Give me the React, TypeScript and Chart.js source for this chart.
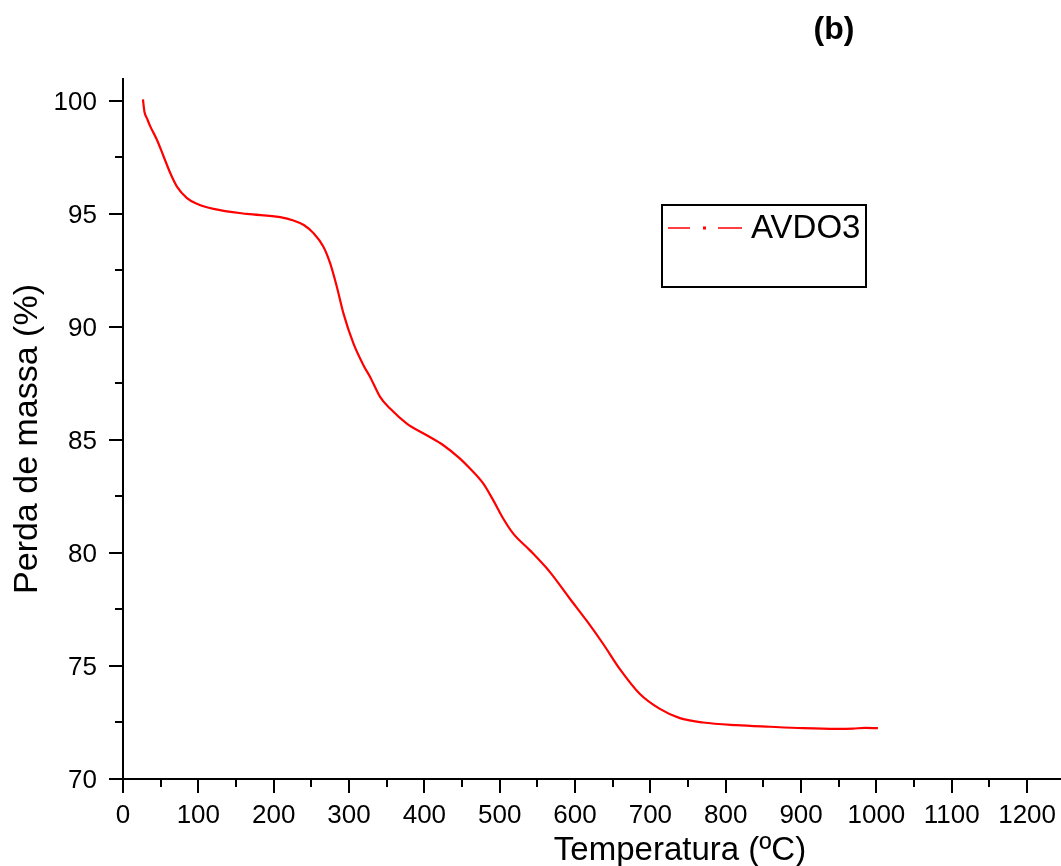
import React, { useEffect, useRef } from "react";
import { Chart, registerables } from "chart.js";

Chart.register(...registerables);

const temperature: number[] = [
  26.5, 27.5, 28.5, 32, 36.2, 45, 53.9, 62.7, 71.6, 84.9, 98.1, 120.2, 164.5, 208.6, 226.3,
  240, 252.8, 266, 274.9, 283.8, 292.6, 305.8, 319.1, 328, 341.2, 354.5, 376.7, 403.2, 425.2,
  447.3, 460.6, 478.3, 491.5, 504.8, 518, 540.2, 566.7, 593.2, 615.4, 637.4, 659.5, 686.1,
  712.6, 739.1, 770, 814.3, 858.5, 902.7, 946.9, 969, 985, 1002,
];
const massPercent: number[] = [
  100.05, 99.75, 99.5, 99.2, 98.86, 98.27, 97.53, 96.8, 96.2, 95.69, 95.44, 95.21, 94.99, 94.85, 94.7,
  94.5, 94.14, 93.54, 92.81, 91.77, 90.59, 89.26, 88.3, 87.78, 86.9, 86.38, 85.72, 85.2, 84.76,
  84.17, 83.73, 83.06, 82.32, 81.51, 80.85, 80.11, 79.15, 77.97, 77.0, 75.97, 74.86, 73.76,
  73.1, 72.69, 72.5, 72.38, 72.31, 72.25, 72.22, 72.23, 72.26, 72.25,
];
const seriesName = "AVDO3";
const xTitle = "Temperatura (ºC)";
const yTitle = "Perda de massa (%)";
const panelLabel = "(b)";
const xRange = [0, 1245];
const yRange = [70, 101];
const xLabelTicks = [0, 100, 200, 300, 400, 500, 600, 700, 800, 900, 1000, 1100, 1200];
const yLabelTicks = [70, 75, 80, 85, 90, 95, 100];

const FONT = "'Liberation Sans', Arial, sans-serif";

const axesPlugin = {
  id: "originAxes",
  afterDraw(chart: any) {
    const ctx: CanvasRenderingContext2D = chart.ctx;
    const xs = chart.scales.x;
    const ys = chart.scales.y;
    const area = chart.chartArea;
    const x0 = xs.getPixelForValue(xRange[0]);
    const y0 = ys.getPixelForValue(yRange[0]);
    ctx.save();
    ctx.strokeStyle = "#000";
    ctx.fillStyle = "#000";
    ctx.lineWidth = 2;
    // axis lines
    ctx.beginPath();
    ctx.moveTo(x0, area.top);
    ctx.lineTo(x0, y0 + 1);
    ctx.moveTo(x0 - 1, y0);
    ctx.lineTo(area.right + 2, y0);
    ctx.stroke();
    // y ticks
    ctx.beginPath();
    for (let v = yRange[0]; v <= yRange[1] + 0.001; v += 2.5) {
      const p = Math.round(ys.getPixelForValue(v));
      const major = Math.abs(v % 5) < 0.001;
      ctx.moveTo(x0, p);
      ctx.lineTo(x0 - (major ? 14 : 8), p);
    }
    // x ticks
    for (let v = xRange[0]; v <= xRange[1]; v += 50) {
      const p = Math.round(xs.getPixelForValue(v));
      const major = v % 100 === 0;
      ctx.moveTo(p, y0);
      ctx.lineTo(p, y0 + (major ? 14 : 8));
    }
    ctx.stroke();
    // tick labels
    ctx.font = `26px ${FONT}`;
    ctx.textAlign = "right";
    ctx.textBaseline = "alphabetic";
    for (const v of yLabelTicks) {
      ctx.fillText(String(v), x0 - 26, ys.getPixelForValue(v) + 9);
    }
    ctx.textAlign = "center";
    for (const v of xLabelTicks) {
      ctx.fillText(String(v), xs.getPixelForValue(v), y0 + 44);
    }
    // axis titles
    ctx.font = `33px ${FONT}`;
    ctx.textAlign = "center";
    ctx.textBaseline = "alphabetic";
    ctx.fillText(xTitle, 680, 860);
    ctx.save();
    ctx.translate(37, 439);
    ctx.rotate(-Math.PI / 2);
    ctx.font = `34px ${FONT}`;
    ctx.fillText(yTitle, 0, 0);
    ctx.restore();
    // panel label
    ctx.font = `bold 32px ${FONT}`;
    ctx.textBaseline = "middle";
    ctx.fillText(panelLabel, 834, 30);
    // legend
    const lx = 662, ly = 205, lw = 204, lh = 82;
    ctx.lineWidth = 2;
    ctx.strokeRect(lx, ly, lw, lh);
    const my = 228;
    ctx.strokeStyle = "#ff0000";
    ctx.lineWidth = 1.5;
    ctx.beginPath();
    ctx.moveTo(668, my);
    ctx.lineTo(690, my);
    ctx.moveTo(718, my);
    ctx.lineTo(742, my);
    ctx.stroke();
    ctx.fillStyle = "#ff0000";
    ctx.fillRect(703, my - 1.5, 3, 3);
    ctx.fillStyle = "#000";
    ctx.font = `33px ${FONT}`;
    ctx.textAlign = "left";
    ctx.textBaseline = "middle";
    ctx.fillText(seriesName, 751, my + 1);
    ctx.restore();
  },
};

export default function App() {
  const canvasRef = useRef<HTMLCanvasElement | null>(null);
  useEffect(() => {
    if (!canvasRef.current) return;
    const points = temperature.map((t, i) => ({ x: t, y: massPercent[i] }));
    const chart = new Chart(canvasRef.current, {
      type: "line",
      data: {
        datasets: [
          {
            label: seriesName,
            data: points,
            borderColor: "#ff0000",
            backgroundColor: "#ff0000",
            borderWidth: 2.2,
            pointRadius: 0,
            cubicInterpolationMode: "monotone",
            fill: false,
          },
        ],
      },
      options: {
        responsive: false,
        animation: false,
        devicePixelRatio: 1,
        layout: { padding: { left: 123, top: 78, right: 0, bottom: 87 } },
        plugins: { legend: { display: false }, tooltip: { enabled: false } },
        scales: {
          x: { type: "linear", min: xRange[0], max: xRange[1], display: false },
          y: { type: "linear", min: yRange[0], max: yRange[1], display: false },
        },
      },
      plugins: [axesPlugin],
    });
    return () => chart.destroy();
  }, []);
  return (
    <div style={{ position: "fixed", left: 0, top: 0, width: 1061, height: 866, background: "#fff" }}>
      <canvas ref={canvasRef} width={1061} height={866} style={{ display: "block" }} />
    </div>
  );
}
